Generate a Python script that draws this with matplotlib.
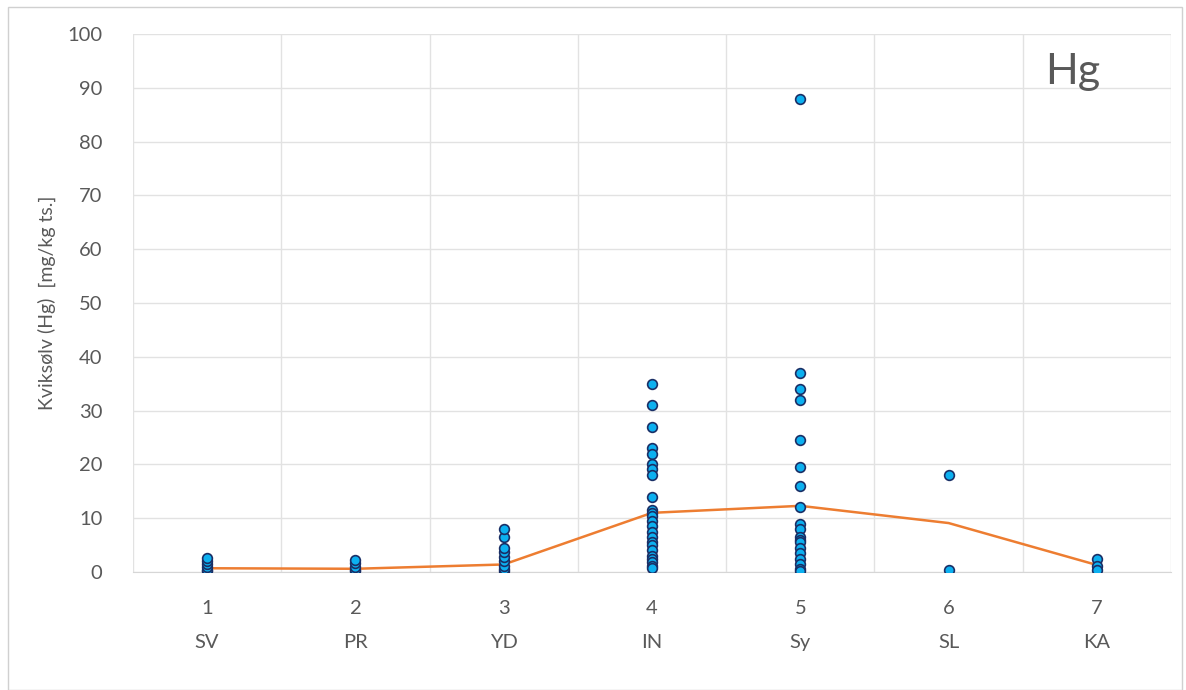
import numpy as np
import matplotlib.pyplot as plt
from matplotlib.patches import Rectangle

# stasjoner / kategorier
nummer = [1, 2, 3, 4, 5, 6, 7]
stasjoner = ["SV", "PR", "YD", "IN", "Sy", "SL", "KA"]

# enkeltmålinger Hg [mg/kg ts.] per kategori
hg_sv = [0.1, 0.4, 0.9, 1.5, 2.0, 2.6]
hg_pr = [0.1, 0.4, 1.0, 1.6, 2.2]
hg_yd = [0.1, 0.5, 1.2, 2.0, 2.8, 3.8, 4.5, 6.5, 8.0]
hg_in = [35, 31, 27, 23, 22, 20, 19.2, 18, 14, 11.5, 11, 10.5, 9.5, 8.5,
         7.5, 6.5, 5.5, 5.0, 4.0, 3.0, 2.5, 1.8, 1.2, 0.8]
hg_sy = [88, 37, 34, 32, 24.5, 19.5, 16, 12, 9, 8, 6.5, 6, 5.5, 4.5,
         3.5, 2.5, 1.5, 0.5, 0.1]
hg_sl = [18, 0.3]
hg_ka = [2.5, 1.2, 0.4]
maalinger = [hg_sv, hg_pr, hg_yd, hg_in, hg_sy, hg_sl, hg_ka]

# linje (gjennomsnitt per kategori)
snitt = [0.7, 0.6, 1.4, 11.0, 12.3, 9.1, 1.3]

tekstfarge = "#595959"
gridfarge = "#E2E2E2"
plt.rcParams['font.family'] = ['Lato', 'DejaVu Sans']

fig = plt.figure(figsize=(11.86, 6.90), dpi=100)
ax = fig.add_axes([0.1121, 0.171, 0.8753, 0.7797])

# ramme rundt hele figuren
fig.patches.append(Rectangle((0.007, 0.0), 0.99, 0.99, transform=fig.transFigure,
                             fill=False, edgecolor="#D0D0D0", linewidth=1.0))

for i, verdier in zip(nummer, maalinger):
    ax.plot([i] * len(verdier), verdier, linestyle="none", marker="o",
            markersize=7.0, markerfacecolor="#0CB0F0", markeredgecolor="#1A2F66",
            markeredgewidth=1.2, zorder=3)

ax.plot(nummer, snitt, color="#ED7D31", linewidth=1.8, zorder=2)

ax.set_xlim(0.5, 7.5)
ax.set_ylim(0, 100)
ax.set_yticks(np.arange(0, 101, 10))
ax.set_xticks(nummer)
ax.set_xticklabels([f"{n}\n{s}" for n, s in zip(nummer, stasjoner)],
                   linespacing=2.2)
ax.set_xticks(np.arange(0.5, 7.6, 1), minor=True)

ax.grid(False)
ax.yaxis.grid(True, color=gridfarge, linewidth=1.0)
ax.xaxis.grid(True, which="minor", color=gridfarge, linewidth=1.0)
for side in ["top", "right", "left"]:
    ax.spines[side].set_visible(False)
ax.spines["bottom"].set_color("#D6D6D6")

ax.tick_params(axis="both", which="both", length=0, colors=tekstfarge, labelsize=14.5)
ax.tick_params(axis="x", pad=20)
ax.tick_params(axis="y", pad=22)
for lbl in ax.get_xticklabels():
    lbl.set_verticalalignment("top")

ax.set_ylabel("Kviksølv (Hg)  [mg/kg ts.]", color=tekstfarge, fontsize=14, labelpad=8)
ax.text(0.905, 0.929, "Hg", transform=ax.transAxes, fontsize=31,
        color=tekstfarge, ha="center", va="center")

fig.savefig("out.png", dpi=100)
